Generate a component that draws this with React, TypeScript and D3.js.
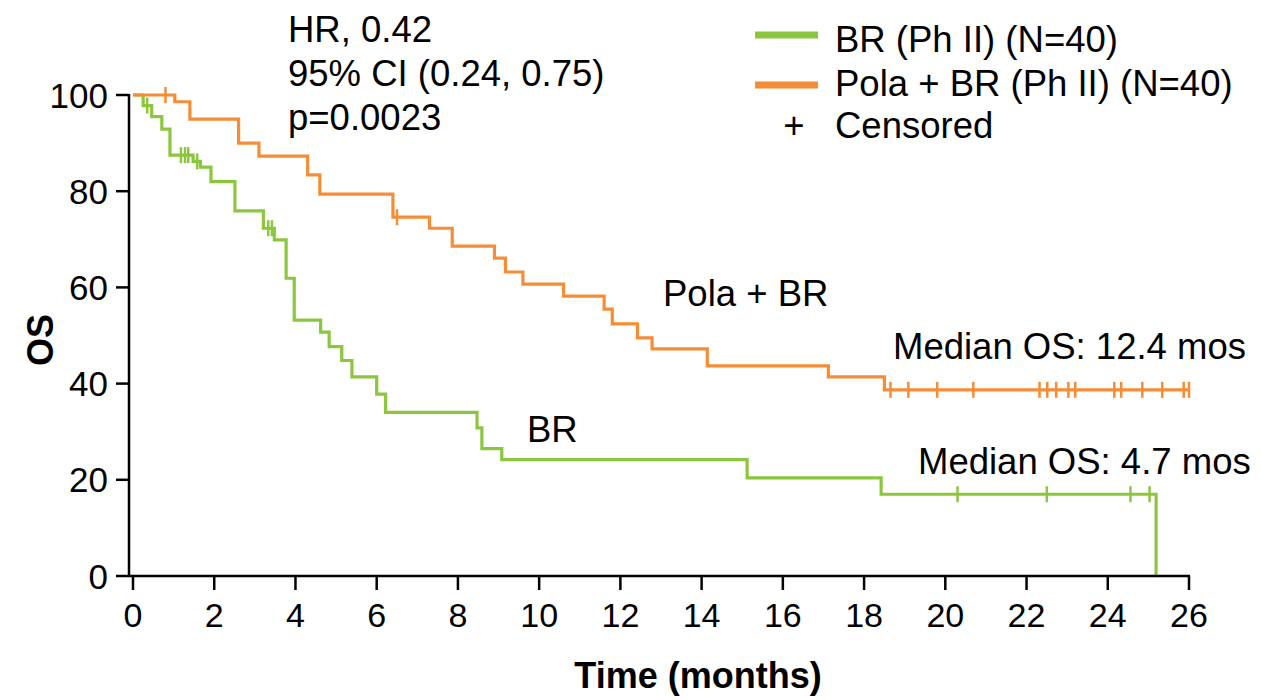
import React from "react";
import * as d3 from "d3";

// Kaplan–Meier step points (time in months, OS %)
const brTimes = [0, 0.25, 0.46, 0.71, 0.91, 1.48, 1.66, 1.92, 2.51, 3.21, 3.48, 3.77, 3.97, 4.62, 4.83, 5.14, 5.39, 6.0, 6.22, 8.47, 8.59, 9.08, 15.12, 18.42, 25.19];
const brSurv = [100, 97.8, 95.5, 92.9, 87.5, 86.2, 85.0, 82.0, 75.9, 72.3, 69.9, 61.9, 53.2, 50.7, 47.7, 44.8, 41.4, 37.8, 34.0, 30.8, 26.5, 24.2, 20.4, 17.0, 0];
const brCensored = [0.35, 1.18, 1.28, 1.36, 1.58, 3.33, 3.42, 20.3, 22.5, 24.56, 25.03];

const polaTimes = [0, 1.03, 1.4, 2.6, 3.1, 4.3, 4.6, 6.4, 7.3, 7.86, 8.9, 9.17, 9.6, 10.6, 11.6, 11.8, 12.42, 12.78, 14.14, 17.12, 18.5];
const polaSurv = [100, 98.6, 95.0, 90.0, 87.3, 83.4, 79.4, 74.6, 72.3, 68.6, 66.1, 63.2, 60.7, 58.2, 55.5, 52.4, 49.5, 47.2, 43.7, 41.4, 38.7];
const polaCensored = [0.8, 6.5, 18.65, 19.09, 19.8, 20.69, 22.32, 22.51, 22.73, 23.03, 23.2, 24.16, 24.33, 24.85, 25.34, 25.87, 26.0];
const polaEnd = 26.0;

const xTicks = d3.range(0, 27, 2);
const yTicks = [0, 20, 40, 60, 80, 100];

const statsLines = ["HR, 0.42", "95% CI (0.24, 0.75)", "p=0.0023"];
const legendItems = ["BR (Ph II) (N=40)", "Pola + BR (Ph II) (N=40)"];

const GREEN = "#8cc63f";
const ORANGE = "#f68d36";
const FONT = "'Liberation Sans', Arial, sans-serif";
const TXT = 36.5;

export default function App() {
  const x = d3.scaleLinear().domain([0, 26]).range([133, 1189]);
  const y = d3.scaleLinear().domain([0, 100]).range([576, 95]);

  const line = d3
    .line<[number, number]>()
    .x((d) => x(d[0]))
    .y((d) => y(d[1]))
    .curve(d3.curveStepAfter);

  const brPts: [number, number][] = brTimes.map((t, i) => [t, brSurv[i]]);
  const polaPts: [number, number][] = polaTimes.map((t, i) => [t, polaSurv[i]]);
  polaPts.push([polaEnd, polaSurv[polaSurv.length - 1]]);

  const survAt = (times: number[], surv: number[], t: number) => {
    let s = surv[0];
    for (let i = 0; i < times.length; i++) if (times[i] <= t) s = surv[i];
    return s;
  };

  const tick = (t: number, s: number, color: string, key: string) => (
    <line key={key} x1={x(t)} x2={x(t)} y1={y(s) - 8} y2={y(s) + 8} stroke={color} strokeWidth={2.5} />
  );

  const axisY = 129;

  return (
    <svg width={1261} height={700} style={{ position: "absolute", left: 0, top: 0, background: "#fff" }} fontFamily={FONT}>
      {/* survival curves */}
      <path d={line(brPts) || ""} fill="none" stroke={GREEN} strokeWidth={3.2} />
      <path d={line(polaPts) || ""} fill="none" stroke={ORANGE} strokeWidth={3.2} />
      {brCensored.map((t, i) => tick(t, survAt(brTimes, brSurv, t), GREEN, "bc" + i))}
      {polaCensored.map((t, i) => tick(t, survAt(polaTimes, polaSurv, t), ORANGE, "pc" + i))}

      {/* y axis */}
      <line x1={axisY} x2={axisY} y1={y(100) - 1} y2={y(0) + 1} stroke="#000" strokeWidth={2.5} />
      {yTicks.map((v) => (
        <g key={"y" + v}>
          <line x1={axisY - 13} x2={axisY} y1={y(v)} y2={y(v)} stroke="#000" strokeWidth={2.5} />
          <text x={108} y={y(v)} dy="0.36em" textAnchor="end" fontSize={35}>
            {v}
          </text>
        </g>
      ))}

      {/* x axis */}
      <line x1={axisY} x2={x(26) + 1} y1={y(0)} y2={y(0)} stroke="#000" strokeWidth={2.5} />
      {xTicks.map((v) => (
        <g key={"x" + v}>
          <line x1={x(v)} x2={x(v)} y1={y(0)} y2={y(0) + 14} stroke="#000" strokeWidth={2.5} />
          <text x={x(v)} y={627} textAnchor="middle" fontSize={34}>
            {v}
          </text>
        </g>
      ))}

      {/* axis titles */}
      <text transform="translate(53,340) rotate(-90)" textAnchor="middle" fontSize={36} fontWeight="bold">
        OS
      </text>
      <text x={698} y={688} textAnchor="middle" fontSize={36} fontWeight="bold">
        Time (months)
      </text>

      {/* statistics */}
      {statsLines.map((s, i) => (
        <text key={s} x={288} y={42 + i * 44} fontSize={TXT}>
          {s}
        </text>
      ))}

      {/* curve labels */}
      <text x={663} y={306} fontSize={TXT}>Pola + BR</text>
      <text x={893} y={359} fontSize={TXT}>Median OS: 12.4 mos</text>
      <text x={527} y={442} fontSize={TXT}>BR</text>
      <text x={918} y={474} fontSize={TXT}>Median OS: 4.7 mos</text>

      {/* legend */}
      <line x1={755} x2={818} y1={35} y2={35} stroke={GREEN} strokeWidth={7} />
      <text x={835} y={52} fontSize={TXT}>{legendItems[0]}</text>
      <line x1={755} x2={818} y1={85} y2={85} stroke={ORANGE} strokeWidth={7} />
      <text x={835} y={96} fontSize={TXT}>{legendItems[1]}</text>
      <text x={794} y={138} textAnchor="middle" fontSize={TXT}>+</text>
      <text x={835} y={138} fontSize={TXT}>Censored</text>
    </svg>
  );
}
